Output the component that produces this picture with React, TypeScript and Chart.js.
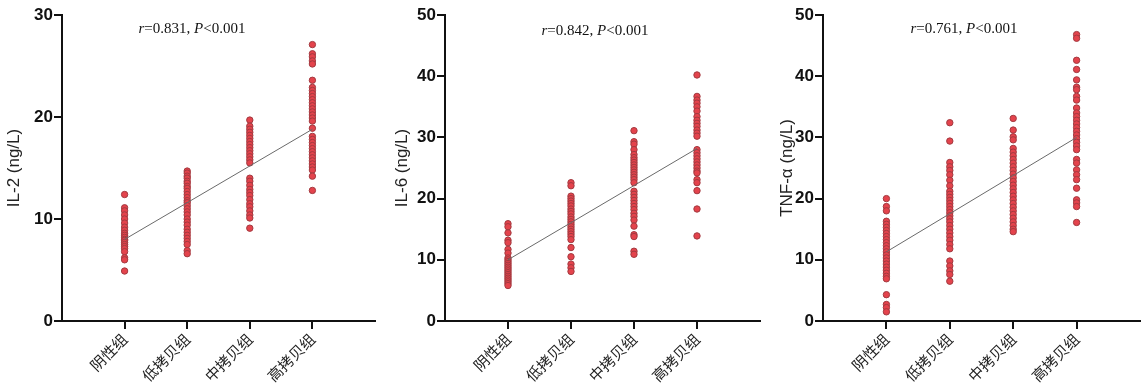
import React, { useEffect, useRef } from "react";
import { Chart, registerables } from "chart.js";

Chart.register(...registerables);

// ---------- data ----------
const categories = ["阴性组", "低拷贝组", "中拷贝组", "高拷贝组"];
const yTickLabelsIL2 = [0, 10, 20, 30];
const yTickLabels50 = [0, 10, 20, 30, 40, 50];

const il2Negative = [12.4, 11.1, 10.8, 10.4, 10.0, 9.6, 9.2, 8.9, 8.6, 8.4, 8.2, 8.0, 7.9, 7.7, 7.5, 7.3, 7.1, 6.8, 6.2, 6.0, 4.9];
const il2Low = [14.7, 14.5, 14.2, 14.0, 13.7, 13.5, 13.2, 13.0, 12.7, 12.4, 12.1, 11.8, 11.6, 11.3, 11.0, 10.7, 10.4, 10.0, 9.7, 9.4, 9.0, 8.7, 8.4, 8.1, 7.8, 7.5, 6.9, 6.6];
const il2Mid = [19.7, 19.1, 18.8, 18.5, 18.2, 17.9, 17.6, 17.3, 17.0, 16.7, 16.4, 16.1, 15.8, 15.5, 14.0, 13.7, 13.3, 12.9, 12.6, 12.3, 11.9, 11.5, 11.2, 10.8, 10.4, 10.1, 9.1];
const il2High = [27.1, 26.2, 25.9, 25.5, 25.2, 23.6, 22.9, 22.6, 22.3, 22.0, 21.7, 21.4, 21.1, 20.8, 20.5, 20.2, 19.9, 19.6, 18.9, 18.1, 17.8, 17.5, 17.2, 16.9, 16.6, 16.3, 16.0, 15.7, 15.4, 15.1, 14.8, 14.2, 12.8];
const il2Fit = [8.0, 18.8];

const il6Negative = [15.9, 15.4, 14.4, 13.2, 12.8, 11.7, 11.1, 10.3, 10.0, 9.7, 9.4, 9.1, 8.8, 8.5, 8.2, 7.9, 7.6, 7.3, 7.0, 6.7, 6.4, 6.1, 5.8];
const il6Low = [22.6, 22.1, 20.4, 20.0, 19.6, 19.2, 18.8, 18.3, 17.9, 17.5, 17.0, 16.6, 16.2, 15.8, 15.4, 15.0, 14.6, 14.2, 13.8, 13.3, 12.0, 10.5, 9.3, 8.7, 8.1];
const il6Mid = [31.1, 29.3, 28.9, 28.0, 27.2, 26.7, 26.3, 25.9, 25.5, 25.1, 24.7, 24.3, 23.9, 23.5, 23.1, 22.6, 21.2, 20.7, 20.2, 19.7, 19.2, 18.7, 18.2, 17.6, 17.1, 16.5, 15.5, 14.1, 13.8, 11.4, 10.9];
const il6High = [40.2, 36.7, 36.1, 35.6, 35.0, 34.3, 33.4, 32.8, 32.3, 31.8, 31.2, 30.7, 30.2, 28.0, 27.5, 27.0, 26.5, 26.0, 25.5, 25.0, 24.5, 24.2, 23.1, 22.6, 21.3, 18.3, 13.9];
const il6Fit = [10.0, 28.2];

const tnfNegative = [20.0, 18.7, 18.0, 16.3, 15.8, 15.3, 14.8, 14.3, 13.8, 13.3, 12.8, 12.3, 11.8, 11.3, 10.8, 10.3, 9.8, 9.3, 8.8, 8.3, 7.8, 7.3, 6.9, 4.3, 2.7, 2.2, 1.5];
const tnfLow = [32.4, 29.4, 25.9, 25.2, 24.6, 23.9, 23.0, 22.1, 21.2, 20.7, 20.2, 19.7, 19.2, 18.7, 18.2, 17.7, 17.2, 16.7, 16.2, 15.6, 15.0, 14.4, 13.8, 13.2, 12.5, 11.8, 9.8, 9.0, 8.2, 7.6, 6.5];
const tnfMid = [33.1, 31.2, 30.1, 29.6, 28.2, 27.6, 27.0, 26.4, 25.8, 25.2, 24.6, 24.0, 23.4, 22.8, 22.2, 21.6, 21.0, 20.4, 19.8, 19.2, 18.6, 18.0, 17.4, 16.8, 16.2, 15.6, 15.0, 14.6];
const tnfHigh = [46.8, 46.2, 42.6, 41.1, 39.4, 38.2, 37.8, 36.7, 36.1, 34.8, 34.0, 33.4, 32.8, 32.2, 31.6, 31.0, 30.4, 29.8, 29.2, 28.6, 28.0, 26.4, 25.8, 24.7, 23.9, 23.1, 21.7, 19.8, 19.3, 18.7, 16.1];
const tnfFit = [11.3, 30.0];

const rValues = ["0.831", "0.842", "0.761"];
const yTitles = ["IL-2 (ng/L)", "IL-6 (ng/L)", "TNF-α (ng/L)"];

// ---------- layout ----------
type PanelProps = {
  canvasLeft: number;
  canvasWidth: number;
  axisLeft: number; // relative to canvas
  axisRight: number; // relative to canvas
  yTicks: number[];
  title: string;
  groups: number[][];
  fit: number[];
};

const H = 390;
const TOP = 15;
const BOTTOM = 321;

function Panel(p: PanelProps) {
  const ref = useRef<HTMLCanvasElement | null>(null);
  useEffect(() => {
    if (!ref.current) return;
    const points: { x: number; y: number }[] = [];
    p.groups.forEach((g, i) => g.forEach((v) => points.push({ x: i + 1, y: v })));
    const yMax = p.yTicks[p.yTicks.length - 1];
    const chart = new Chart(ref.current, {
      type: "scatter",
      data: {
        datasets: [
          {
            type: "line",
            data: [
              { x: 1, y: p.fit[0] },
              { x: categories.length, y: p.fit[1] },
            ],
            borderColor: "#6a6a6a",
            borderWidth: 1,
            pointRadius: 0,
            fill: false,
            order: 0,
          } as any,
          {
            data: points,
            backgroundColor: "#e4434c",
            borderColor: "#a23a40",
            borderWidth: 1,
            pointRadius: 3.2,
            order: 1,
          },
        ],
      },
      options: {
        animation: false,
        responsive: false,
        maintainAspectRatio: false,
        events: [],
        layout: {
          padding: { left: 0, top: TOP, right: p.canvasWidth - p.axisRight, bottom: 0 },
        },
        plugins: { legend: { display: false }, tooltip: { enabled: false }, title: { display: false } },
        scales: {
          x: {
            type: "linear",
            min: 0,
            max: categories.length + 1,
            afterBuildTicks: (s: any) => {
              s.ticks = categories.map((_, i) => ({ value: i + 1 }));
            },
            afterFit: (s: any) => {
              s.height = H - BOTTOM;
              s.paddingLeft = 0;
              s.paddingRight = 0;
              s.paddingTop = 0;
              s.paddingBottom = 0;
            },
            ticks: {
              autoSkip: false,
              minRotation: 45,
              maxRotation: 45,
              padding: 1,
              color: "#222",
              font: { family: "'Noto Sans CJK SC'", size: 15 },
              callback: (v: any) => categories[Number(v) - 1] ?? "",
            },
            grid: {
              drawOnChartArea: false,
              drawTicks: true,
              tickLength: 8,
              color: "#111",
              lineWidth: 2,
            },
            border: { display: true, color: "#111", width: 2 },
          },
          y: {
            type: "linear",
            min: 0,
            max: yMax,
            afterBuildTicks: (s: any) => {
              s.ticks = p.yTicks.map((v) => ({ value: v }));
            },
            afterFit: (s: any) => {
              s.width = p.axisLeft;
              s.paddingLeft = 0;
              s.paddingRight = 0;
              s.paddingTop = 0;
              s.paddingBottom = 0;
            },
            ticks: {
              padding: 1,
              color: "#111",
              font: { family: "'Liberation Sans', Arial", size: 17, weight: "bold" },
            },
            grid: {
              drawOnChartArea: false,
              drawTicks: true,
              tickLength: 8,
              color: "#111",
              lineWidth: 2,
            },
            border: { display: true, color: "#111", width: 2 },
            title: {
              display: true,
              text: p.title,
              color: "#222",
              padding: { top: 4, bottom: 0 },
              font: { family: "'Liberation Sans', Arial", size: 17, weight: "normal" },
            },
          },
        },
      } as any,
    });
    return () => chart.destroy();
  }, []);
  return (
    <canvas
      ref={ref}
      width={p.canvasWidth}
      height={H}
      style={{ position: "absolute", left: p.canvasLeft, top: 0, width: p.canvasWidth, height: H }}
    />
  );
}

function Annotation({ x, y, r }: { x: number; y: number; r: string }) {
  return (
    <div
      style={{
        position: "absolute",
        left: x,
        top: y,
        transform: "translate(-50%, -50%)",
        fontFamily: "'Liberation Serif', 'Times New Roman', serif",
        fontSize: 15,
        color: "#111",
        whiteSpace: "nowrap",
      }}
    >
      <i>r</i>={r}, <i>P</i>&lt;0.001
    </div>
  );
}

export default function App() {
  return (
    <div style={{ position: "absolute", left: 0, top: 0, width: 1148, height: H, background: "#fff", overflow: "hidden" }}>
      <Panel
        canvasLeft={0}
        canvasWidth={380}
        axisLeft={62}
        axisRight={378}
        yTicks={yTickLabelsIL2}
        title={yTitles[0]}
        groups={[il2Negative, il2Low, il2Mid, il2High]}
        fit={il2Fit}
      />
      <Panel
        canvasLeft={388}
        canvasWidth={377}
        axisLeft={57}
        axisRight={372}
        yTicks={yTickLabels50}
        title={yTitles[1]}
        groups={[il6Negative, il6Low, il6Mid, il6High]}
        fit={il6Fit}
      />
      <Panel
        canvasLeft={773}
        canvasWidth={375}
        axisLeft={50}
        axisRight={367}
        yTicks={yTickLabels50}
        title={yTitles[2]}
        groups={[tnfNegative, tnfLow, tnfMid, tnfHigh]}
        fit={tnfFit}
      />
      <Annotation x={192} y={28} r={rValues[0]} />
      <Annotation x={595} y={30} r={rValues[1]} />
      <Annotation x={964} y={28} r={rValues[2]} />
    </div>
  );
}
